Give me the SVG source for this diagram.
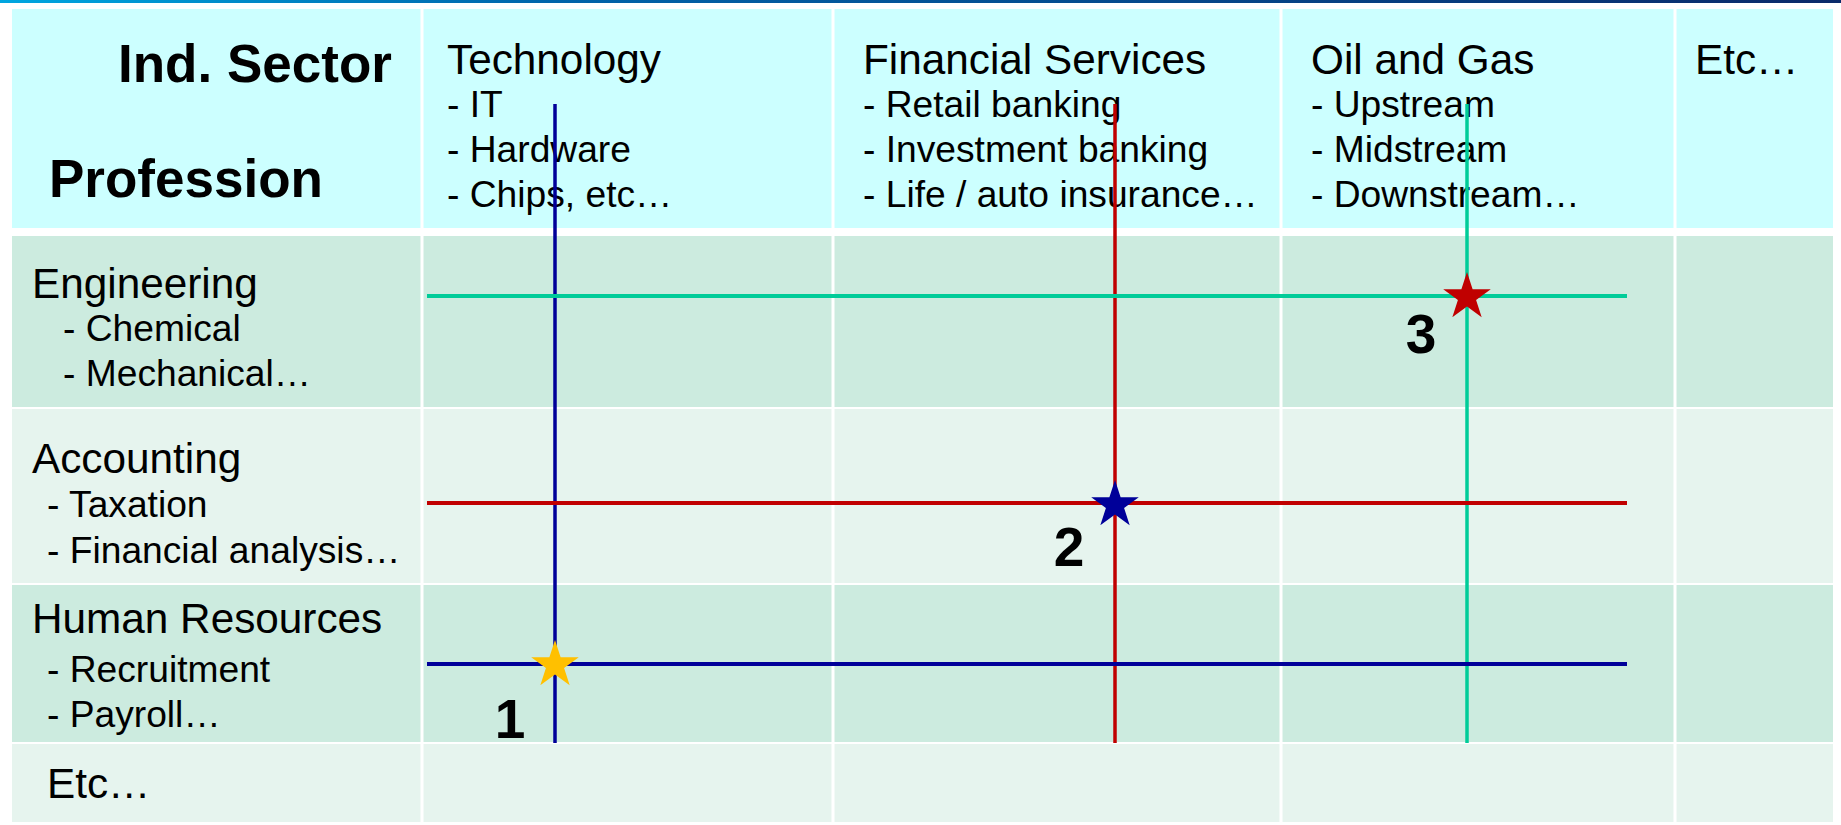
<svg xmlns="http://www.w3.org/2000/svg" width="1841" height="825" viewBox="0 0 1841 825">
<defs>
<linearGradient id="topbar" x1="0" y1="0" x2="1" y2="0">
<stop offset="0" stop-color="#00A6E0"/>
<stop offset="0.3" stop-color="#0064AA"/>
<stop offset="1" stop-color="#0A2A6A"/>
</linearGradient>
<polygon id="star" points="0,-25 5.61,-7.73 23.78,-7.73 9.08,2.95 14.69,20.23 0,9.55 -14.69,20.23 -9.08,2.95 -23.78,-7.73 -5.61,-7.73"/>
<style>
text{font-family:"Liberation Sans",Arial,sans-serif;fill:#000}
.big{font-size:53px;font-weight:bold}
.h{font-size:42.3px}
.s{font-size:37.2px}
.num{font-size:55px;font-weight:bold;text-anchor:middle}
.hdr{fill:#CCFFFF}
.dk{fill:#CCEBDF}
.lt{fill:#E6F4EE}
.sep{stroke:#FFFFFF;stroke-width:3}
.ln{fill:none}
</style>
</defs>
<rect width="1841" height="825" fill="#FFFFFF"/>
<rect x="0" y="0" width="1841" height="3" fill="url(#topbar)"/>

<g id="grid">
<rect class="hdr" x="12" y="9" width="1821" height="219"/>
<rect class="dk" x="12" y="236" width="1821" height="171"/>
<rect class="lt" x="12" y="409" width="1821" height="174"/>
<rect class="dk" x="12" y="585" width="1821" height="157"/>
<rect class="lt" x="12" y="744" width="1821" height="78"/>
<g class="sep">
<line x1="422" y1="9" x2="422" y2="822"/>
<line x1="833" y1="9" x2="833" y2="822"/>
<line x1="1281" y1="9" x2="1281" y2="822"/>
<line x1="1675" y1="9" x2="1675" y2="822"/>
</g>
</g>

<g id="corner">
<text class="big" x="118" y="82">Ind. Sector</text>
<text class="big" x="49" y="197">Profession</text>
</g>

<g id="col-technology">
<text class="h" x="447" y="74">Technology</text>
<text class="s" x="447" y="117">- IT</text>
<text class="s" x="447" y="162">- Hardware</text>
<text class="s" x="447" y="207">- Chips, etc…</text>
</g>
<g id="col-financial">
<text class="h" x="863" y="74">Financial Services</text>
<text class="s" x="863" y="117">- Retail banking</text>
<text class="s" x="863" y="162">- Investment banking</text>
<text class="s" x="863" y="207">- Life / auto insurance…</text>
</g>
<g id="col-oilgas">
<text class="h" x="1311" y="74">Oil and Gas</text>
<text class="s" x="1311" y="117">- Upstream</text>
<text class="s" x="1311" y="162">- Midstream</text>
<text class="s" x="1311" y="207">- Downstream…</text>
</g>
<g id="col-etc">
<text class="h" x="1695" y="74">Etc…</text>
</g>

<g id="row-engineering">
<text class="h" x="32" y="298">Engineering</text>
<text class="s" x="63" y="341">- Chemical</text>
<text class="s" x="63" y="386">- Mechanical…</text>
</g>
<g id="row-accounting">
<text class="h" x="32" y="473">Accounting</text>
<text class="s" x="47" y="517">- Taxation</text>
<text class="s" x="47" y="563">- Financial analysis…</text>
</g>
<g id="row-hr">
<text class="h" x="32" y="633">Human Resources</text>
<text class="s" x="47" y="682">- Recruitment</text>
<text class="s" x="47" y="727">- Payroll…</text>
</g>
<g id="row-etc">
<text class="h" x="47" y="798">Etc…</text>
</g>

<g id="connectors" class="ln">
<line x1="555" y1="104" x2="555" y2="743" stroke="#000099" stroke-width="3.5"/>
<line x1="1115" y1="104" x2="1115" y2="743" stroke="#C00000" stroke-width="3.5"/>
<line x1="1467" y1="104" x2="1467" y2="743" stroke="#00CC99" stroke-width="3.5"/>
<line x1="427" y1="296" x2="1627" y2="296" stroke="#00CC99" stroke-width="4"/>
<line x1="427" y1="503" x2="1627" y2="503" stroke="#C00000" stroke-width="4"/>
<line x1="427" y1="664" x2="1627" y2="664" stroke="#000099" stroke-width="4"/>
</g>

<g id="point-1">
<use href="#star" transform="translate(555,665)" fill="#FFC000"/>
<text class="num" x="510" y="738">1</text>
</g>
<g id="point-2">
<use href="#star" transform="translate(1115,505)" fill="#000099"/>
<text class="num" x="1069" y="566">2</text>
</g>
<g id="point-3">
<use href="#star" transform="translate(1467,297)" fill="#C00000"/>
<text class="num" x="1421" y="353">3</text>
</g>
</svg>
